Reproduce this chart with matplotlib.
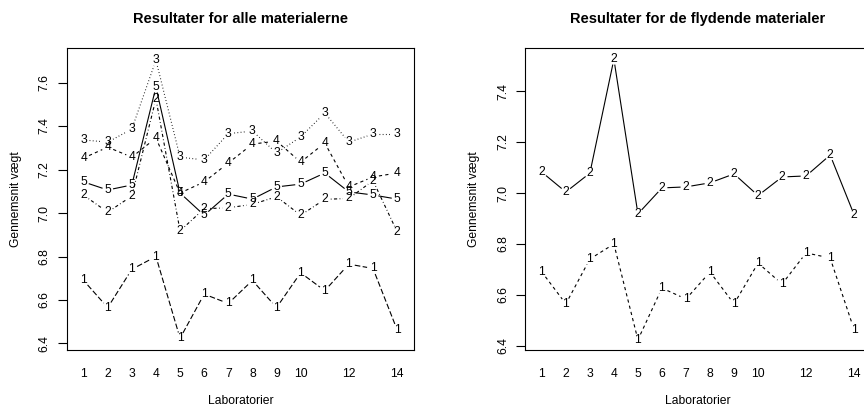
import numpy as np
import matplotlib.pyplot as plt
from matplotlib.lines import Line2D

plt.rcParams['font.family'] = ['Liberation Sans', 'DejaVu Sans']

labs = np.arange(1, 15)
mat1 = [6.69, 6.565, 6.741, 6.80, 6.424, 6.627, 6.584, 6.69, 6.565, 6.725, 6.643, 6.765, 6.745, 6.463]
mat2 = [7.082, 7.004, 7.078, 7.525, 6.918, 7.02, 7.024, 7.04, 7.075, 6.99, 7.063, 7.067, 7.149, 6.914]
mat3 = [7.336, 7.326, 7.386, 7.703, 7.257, 7.244, 7.365, 7.377, 7.276, 7.35, 7.46, 7.326, 7.363, 7.363]
mat4 = [7.253, 7.303, 7.257, 7.345, 7.092, 7.143, 7.23, 7.317, 7.331, 7.234, 7.322, 7.12, 7.166, 7.184]
mat5 = [7.143, 7.106, 7.129, 7.579, 7.092, 6.99, 7.087, 7.064, 7.12, 7.133, 7.184, 7.097, 7.083, 7.064]

xtick_labels = [1, 2, 3, 4, 5, 6, 7, 8, 9, 10, 12, 14]

FS = 8.7
PX = 0.72  # one pixel in points at 100 dpi

# R-like line types, in pixels
LTY = {
    'solid': None,
    'dashed': (4, 4),
    'dotted': (1, 3),
    'dotdash': (1, 3, 4, 3),
    'longdash': (7, 3),
}


def type_b(ax, x, y, label, lty, gap=6.0):
    """Draw points as digits and joining segments with a gap, like R type='b'."""
    pts = ax.transData.transform(np.column_stack([x, y]))
    inv = ax.transData.inverted()
    for p0, p1 in zip(pts[:-1], pts[1:]):
        d = p1 - p0
        n = np.hypot(*d)
        if n <= 2 * gap:
            continue
        u = d / n
        a = inv.transform(p0 + u * gap)
        b = inv.transform(p1 - u * gap)
        ln = Line2D([a[0], b[0]], [a[1], b[1]], color='black', lw=0.8)
        if LTY[lty] is not None:
            ln.set_dashes([v * PX for v in LTY[lty]])
        ax.add_line(ln)
    for xi, yi in zip(x, y):
        ax.text(xi, yi, str(label), ha='center', va='center', fontsize=FS)


def setup(ax, ylim, yticks, title):
    ax.set_xlim(0.3, 14.7)
    ax.set_ylim(*ylim)
    ax.set_xticks(xtick_labels)
    ax.set_xticklabels([str(v) for v in xtick_labels], fontsize=FS)
    ax.set_yticks(yticks)
    ax.set_yticklabels([f'{v:.1f}' for v in yticks], fontsize=FS, rotation=90, va='center')
    ax.tick_params(axis='x', length=0, pad=13)
    ax.tick_params(axis='y', length=6.5, width=0.8, pad=5)
    for s in ax.spines.values():
        s.set_linewidth(0.8)
    ax.set_xlabel('Laboratorier', fontsize=FS, labelpad=11)
    ax.set_ylabel('Gennemsnit vægt', fontsize=FS, labelpad=12)
    ax.set_title(title, fontsize=10.5, fontweight='bold', pad=18)


fig = plt.figure(figsize=(8.64, 4.09), dpi=100)
W, H = 864, 409
ax1 = fig.add_axes([66.7 / W, (H - 350) / H, 347.3 / W, 302 / H])
ax2 = fig.add_axes([525 / W, (H - 350) / H, 346 / W, 302 / H])

setup(ax1, (6.370, 7.759), [6.4, 6.6, 6.8, 7.0, 7.2, 7.4, 7.6], 'Resultater for alle materialerne')
setup(ax2, (6.384, 7.569), [6.4, 6.6, 6.8, 7.0, 7.2, 7.4], 'Resultater for de flydende materialer')

left_series = [(mat1, 1, 'longdash'), (mat2, 2, 'dotdash'), (mat3, 3, 'dotted'),
               (mat4, 4, 'dashed'), (mat5, 5, 'solid')]
for vals, lab, lty in left_series:
    type_b(ax1, labs, vals, lab, lty)

type_b(ax2, labs, mat1, 1, 'dashed')
type_b(ax2, labs, mat2, 2, 'solid')

fig.savefig('out.png', dpi=100)
